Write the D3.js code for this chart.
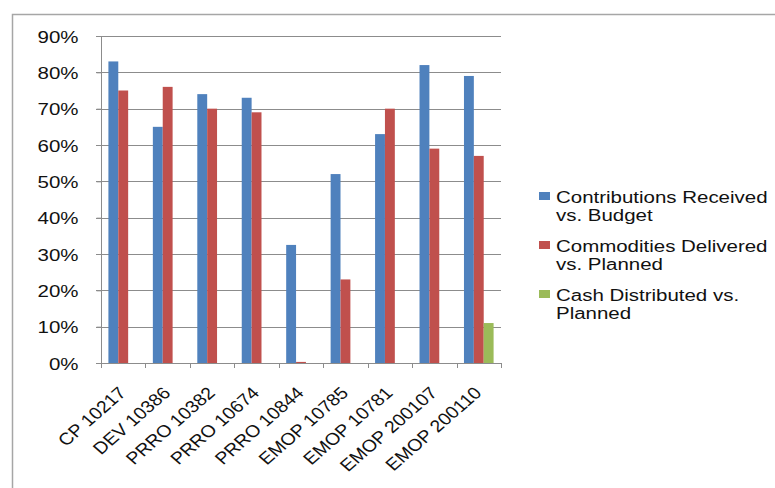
<!DOCTYPE html>
<html>
<head>
<meta charset="utf-8">
<script src="https://cdn.jsdelivr.net/npm/d3@7"></script>
<style>
  html, body { margin: 0; padding: 0; background: #fff; }
  svg { display: block; font-family: "Liberation Sans", Arial, sans-serif; }
</style>
</head>
<body>
<svg id="chart" width="775" height="488"></svg>
<script>
// Programme codes along the x axis
const categories = ["CP 10217", "DEV 10386", "PRRO 10382", "PRRO 10674", "PRRO 10844",
                    "EMOP 10785", "EMOP 10781", "EMOP 200107", "EMOP 200110"];

// Share achieved per programme (fractions of 1)
const contributions = [0.83, 0.65, 0.74, 0.73, 0.325, 0.52, 0.63, 0.82, 0.79];
const commodities   = [0.75, 0.76, 0.70, 0.69, 0.003, 0.23, 0.70, 0.59, 0.57];
const cash          = [0, 0, 0, 0, 0, 0, 0, 0, 0.11];

const seriesNames = ["Contributions Received vs. Budget",
                     "Commodities Delivered vs. Planned",
                     "Cash Distributed vs. Planned"];
const legendLines = [["Contributions Received", "vs. Budget"],
                     ["Commodities Delivered", "vs. Planned"],
                     ["Cash Distributed vs.", "Planned"]];
const yTicks = [0, 0.1, 0.2, 0.3, 0.4, 0.5, 0.6, 0.7, 0.8, 0.9];

const colors = ["#4F81BD", "#C0504D", "#9BBB59"];
const series = [contributions, commodities, cash];
const SX = 1.28;  // horizontal stretch of the lettering
const SXL = 1.15; // stretch for the slanted category labels

const svg = d3.select("#chart");

// outer chart frame
svg.append("rect")
  .attr("x", 12.5).attr("y", 14.5)
  .attr("width", 800).attr("height", 500)
  .attr("fill", "none").attr("stroke", "#a6a6a6").attr("stroke-width", 1.5);

const plot = { left: 101, right: 501, top: 36, bottom: 363 };

const x = d3.scaleBand().domain(categories).range([plot.left, plot.right]).paddingInner(0).paddingOuter(0);
const y = d3.scaleLinear().domain([0, 0.9]).range([plot.bottom, plot.top]);

// gridlines with tick stubs
svg.append("g").selectAll("line").data(yTicks).join("line")
  .attr("x1", plot.left - 5).attr("x2", plot.right)
  .attr("y1", d => Math.round(y(d)) + 0.5).attr("y2", d => Math.round(y(d)) + 0.5)
  .attr("stroke", "#8c8c8c").attr("stroke-width", 1);

// y axis
const yAxis = svg.append("g")
  .attr("transform", `translate(${plot.left + 0.5},0)`)
  .call(d3.axisLeft(y).tickValues(yTicks).tickFormat(d3.format(".0%")).tickSize(5).tickPadding(0));
yAxis.select(".domain").attr("stroke", "#8c8c8c").attr("d", `M0,${plot.top}V${plot.bottom}`);
yAxis.selectAll(".tick line").attr("stroke", "#8c8c8c");
yAxis.selectAll(".tick text")
  .attr("x", null).attr("dy", null)
  .attr("transform", `translate(-23,6) scale(${SX},1)`)
  .attr("font-size", 16).attr("fill", "#111")
  .attr("font-family", "Liberation Sans, Arial, sans-serif");

// x axis ticks at band edges
const edges = categories.map(c => x(c)).concat([plot.right]);
svg.append("g").selectAll("line").data(edges).join("line")
  .attr("x1", d => Math.round(d) + 0.5).attr("x2", d => Math.round(d) + 0.5)
  .attr("y1", plot.bottom).attr("y2", plot.bottom + 5)
  .attr("stroke", "#8c8c8c");
svg.append("line")
  .attr("x1", plot.left).attr("x2", plot.right)
  .attr("y1", plot.bottom + 0.5).attr("y2", plot.bottom + 0.5)
  .attr("stroke", "#8c8c8c");

// clustered bars: 3 series, gap width 150%
const bw = x.bandwidth() / 4.5;
const inner = d3.scaleBand().domain(d3.range(3)).range([0, bw * 3]);
series.forEach((vals, si) => {
  svg.append("g").selectAll("rect").data(vals).join("rect")
    .attr("x", (d, i) => x(categories[i]) + bw * 0.75 + inner(si))
    .attr("width", bw)
    .attr("y", d => y(d))
    .attr("height", d => y(0) - y(d))
    .attr("fill", colors[si]);
});

// category labels, rotated
svg.append("g").selectAll("text").data(categories).join("text")
  .attr("text-anchor", "end")
  .attr("font-size", 17).attr("fill", "#111")
  .attr("transform", d => `translate(${x(d) + x.bandwidth() / 2 + 4},${plot.bottom + 31}) scale(${SXL},1) rotate(-45)`)
  .text(d => d);

// legend
const lg = svg.append("g").attr("transform", "translate(539,192)");
seriesNames.forEach((name, i) => {
  const g = lg.append("g").attr("transform", `translate(0,${i * 49})`);
  g.append("rect").attr("width", 11).attr("height", 8).attr("fill", colors[i]);
  legendLines[i].forEach((ln, j) => {
    g.append("text")
      .attr("transform", `translate(17,${11 + j * 17.5}) scale(${SX},1)`)
      .attr("font-size", 16).attr("fill", "#111")
      .text(ln);
  });
});
</script>
</body>
</html>
